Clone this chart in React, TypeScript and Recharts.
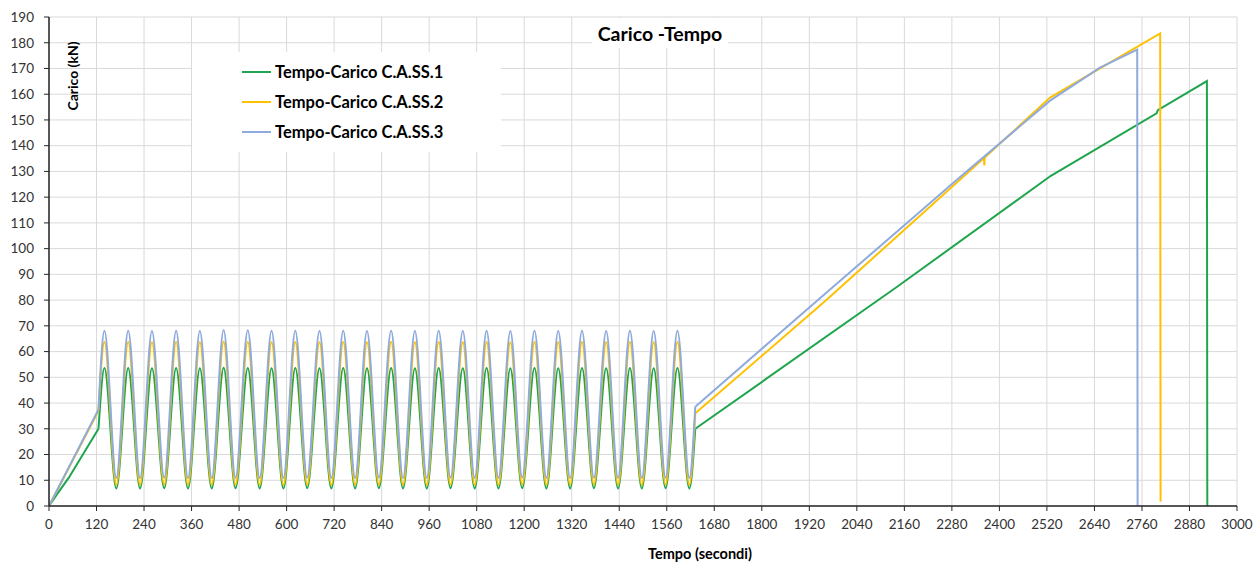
import React from "react";
import { LineChart, Line, XAxis, YAxis, CartesianGrid } from "recharts";

// time axis (s) and load axis (kN) ticks
const xTicks = [0, 120, 240, 360, 480, 600, 720, 840, 960, 1080, 1200, 1320, 1440, 1560, 1680, 1800, 1920, 2040, 2160, 2280, 2400, 2520, 2640, 2760, 2880, 3000];
const yTicks = [0, 10, 20, 30, 40, 50, 60, 70, 80, 90, 100, 110, 120, 130, 140, 150, 160, 170, 180, 190];

// cyclic phase: times of the maxima and minima (shared by the three specimens)
const cycleTopTimes = [140, 200, 260, 321, 381, 441, 502, 562, 622, 683, 743, 803, 864, 924, 984, 1045, 1105, 1165, 1226, 1286, 1346, 1407, 1467, 1527, 1587];
const cycleLowTimes = [170, 230, 291, 351, 411, 471, 532, 592, 652, 713, 773, 833, 894, 954, 1014, 1075, 1135, 1195, 1256, 1316, 1376, 1437, 1497, 1557, 1617];

// C.A.SS.1 (green)
const greenRiseT = [0, 20, 50, 125];
const greenRiseV = [0, 4.5, 11, 30];
const greenPeaks = [53.6, 53.6, 53.5, 53.6, 53.5, 53.7, 53.6, 53.5, 53.6, 53.5, 53.6, 53.5, 53.6, 53.5, 53.6, 53.5, 53.6, 53.5, 53.6, 53.5, 53.6, 53.5, 53.6, 53.5, 53.6];
const greenLows = [6.8, 6.8, 6.9, 6.8, 6.8, 6.9, 6.8, 6.8, 6.9, 6.8, 6.8, 6.9, 6.8, 6.8, 6.9, 6.8, 6.8, 6.9, 6.8, 6.8, 6.9, 6.8, 6.8, 6.9, 6.8];
const greenRampT = [1632, 2140, 2530, 2797, 2800, 2924, 2925];
const greenRampV = [30, 85, 128.3, 152.6, 153.8, 165.1, 0];

// C.A.SS.2 (yellow)
const yellowRiseT = [0, 125];
const yellowRiseV = [0, 37];
const yellowPeaks = [63.7, 63.7, 63.6, 63.7, 63.6, 63.8, 63.7, 63.6, 63.7, 63.6, 63.7, 63.6, 63.7, 63.6, 63.7, 63.6, 63.7, 63.6, 63.7, 63.6, 63.7, 63.6, 63.7, 63.6, 63.7];
const yellowLows = [8.2, 8.2, 8.3, 8.2, 8.2, 8.3, 8.2, 8.2, 8.3, 8.2, 8.2, 8.3, 8.2, 8.2, 8.3, 8.2, 8.2, 8.3, 8.2, 8.2, 8.3, 8.2, 8.2, 8.3, 8.2];
const yellowRampT = [1632, 1963, 2361, 2362, 2363, 2528, 2654, 2806, 2807];
const yellowRampV = [36, 80, 135.2, 132.3, 135.4, 158.7, 170, 183.6, 1.7];

// C.A.SS.3 (blue)
const blueRiseT = [0, 125];
const blueRiseV = [0, 37.5];
const bluePeaks = [68.1, 68.1, 68.0, 68.1, 68.0, 68.4, 68.3, 68.1, 68.1, 68.0, 68.1, 68.0, 68.1, 68.0, 68.1, 68.0, 68.1, 68.0, 68.1, 68.0, 68.1, 68.0, 68.1, 68.0, 68.1];
const blueLows = [10.9, 10.9, 11.0, 10.9, 10.9, 11.0, 10.9, 10.9, 11.0, 10.9, 10.9, 11.0, 10.9, 10.9, 11.0, 10.9, 10.9, 11.0, 10.9, 10.9, 11.0, 10.9, 10.9, 11.0, 10.9];
const blueRampT = [1632, 1949, 2292, 2528, 2654, 2748, 2749];
const blueRampV = [38.6, 81, 126.7, 157.5, 170.3, 177.3, 0];

type Pt = { t: number; v: number };

const toPts = (ts: number[], vs: number[]): Pt[] => ts.map((t, i) => ({ t, v: vs[i] }));

// the cyclic part is drawn smooth; it starts at the last rise point and ends at the first ramp point
function cyclePart(riseT: number[], riseV: number[], peaks: number[], lows: number[], rampT: number[], rampV: number[]): Pt[] {
  const out: Pt[] = [{ t: riseT[riseT.length - 1], v: riseV[riseV.length - 1] }];
  cycleTopTimes.forEach((t, i) => {
    out.push({ t, v: peaks[i] });
    out.push({ t: cycleLowTimes[i], v: lows[i] });
  });
  out.push({ t: rampT[0], v: rampV[0] });
  return out;
}

const series = [
  {
    name: "green",
    color: "#1FA54E",
    rise: toPts(greenRiseT, greenRiseV),
    cycles: cyclePart(greenRiseT, greenRiseV, greenPeaks, greenLows, greenRampT, greenRampV),
    ramp: toPts(greenRampT, greenRampV),
  },
  {
    name: "yellow",
    color: "#FFC000",
    rise: toPts(yellowRiseT, yellowRiseV),
    cycles: cyclePart(yellowRiseT, yellowRiseV, yellowPeaks, yellowLows, yellowRampT, yellowRampV),
    ramp: toPts(yellowRampT, yellowRampV),
  },
  {
    name: "blue",
    color: "#8FAADC",
    rise: toPts(blueRiseT, blueRiseV),
    cycles: cyclePart(blueRiseT, blueRiseV, bluePeaks, blueLows, blueRampT, blueRampV),
    ramp: toPts(blueRampT, blueRampV),
  },
];

const FONT = "Lato, 'Open Sans', sans-serif";

const legendItems = [
  { label: "Tempo-Carico C.A.SS.1", color: "#1FA54E" },
  { label: "Tempo-Carico C.A.SS.2", color: "#FFC000" },
  { label: "Tempo-Carico C.A.SS.3", color: "#8FAADC" },
];

export default function App() {
  const tick = { fontSize: 13.5, fill: "#333", fontFamily: FONT };
  return (
    <div style={{ position: "absolute", left: 0, top: 0, width: 1255, height: 562, background: "#fff", fontFamily: FONT }}>
      <LineChart width={1255} height={562} margin={{ top: 17, right: 18, bottom: 0, left: 0 }}>
        <CartesianGrid stroke="#D9D9D9" strokeWidth={1} />
        <XAxis
          type="number"
          dataKey="t"
          domain={[0, 3000]}
          ticks={xTicks}
          interval={0}
          height={56}
          tick={tick}
          tickSize={5}
          tickMargin={8}
          axisLine={{ stroke: "#262626", strokeWidth: 1.5 }}
          tickLine={{ stroke: "#262626" }}
          allowDataOverflow
        />
        <YAxis
          type="number"
          domain={[0, 190]}
          ticks={yTicks}
          interval={0}
          width={49}
          tick={tick}
          tickSize={5}
          tickMargin={10}
          axisLine={{ stroke: "#262626", strokeWidth: 1.5 }}
          tickLine={{ stroke: "#262626" }}
          allowDataOverflow
        />
        {series.flatMap((s) => [
          <Line key={s.name + "-rise"} data={s.rise} dataKey="v" type="linear" stroke={s.color} strokeWidth={2} dot={false} isAnimationActive={false} />,
          <Line key={s.name + "-cyc"} data={s.cycles} dataKey="v" type="monotone" stroke={s.color} strokeWidth={2} dot={false} isAnimationActive={false} />,
          <Line key={s.name + "-ramp"} data={s.ramp} dataKey="v" type="linear" stroke={s.color} strokeWidth={2} dot={false} isAnimationActive={false} />,
        ])}
      </LineChart>

      {/* title */}
      <div style={{ position: "absolute", left: 592, top: 18, width: 136, height: 30, background: "#fff", display: "flex", alignItems: "center", justifyContent: "center", fontSize: 19.5, fontWeight: 700, color: "#000", whiteSpace: "nowrap" }}>
        Carico -Tempo
      </div>

      {/* legend */}
      <div style={{ position: "absolute", left: 192, top: 52, width: 309, height: 100, background: "#fff" }}>
        {legendItems.map((it, i) => (
          <div key={it.label} style={{ position: "absolute", left: 50, top: 8 + i * 30, height: 24, display: "flex", alignItems: "center" }}>
            <div style={{ width: 29, height: 2, background: it.color, marginRight: 4 }} />
            <span style={{ fontSize: 16.5, fontWeight: 700, color: "#000", whiteSpace: "nowrap" }}>{it.label}</span>
          </div>
        ))}
      </div>

      {/* axis titles */}
      <div style={{ position: "absolute", left: 72, top: 76, transform: "translate(-50%, -50%) rotate(-90deg)", fontSize: 14, fontWeight: 700, color: "#000", whiteSpace: "nowrap" }}>
        Carico (kN)
      </div>
      <div style={{ position: "absolute", left: 700, top: 553, transform: "translate(-50%, -50%)", fontSize: 14.5, fontWeight: 700, color: "#000", whiteSpace: "nowrap" }}>
        Tempo (secondi)
      </div>
    </div>
  );
}
